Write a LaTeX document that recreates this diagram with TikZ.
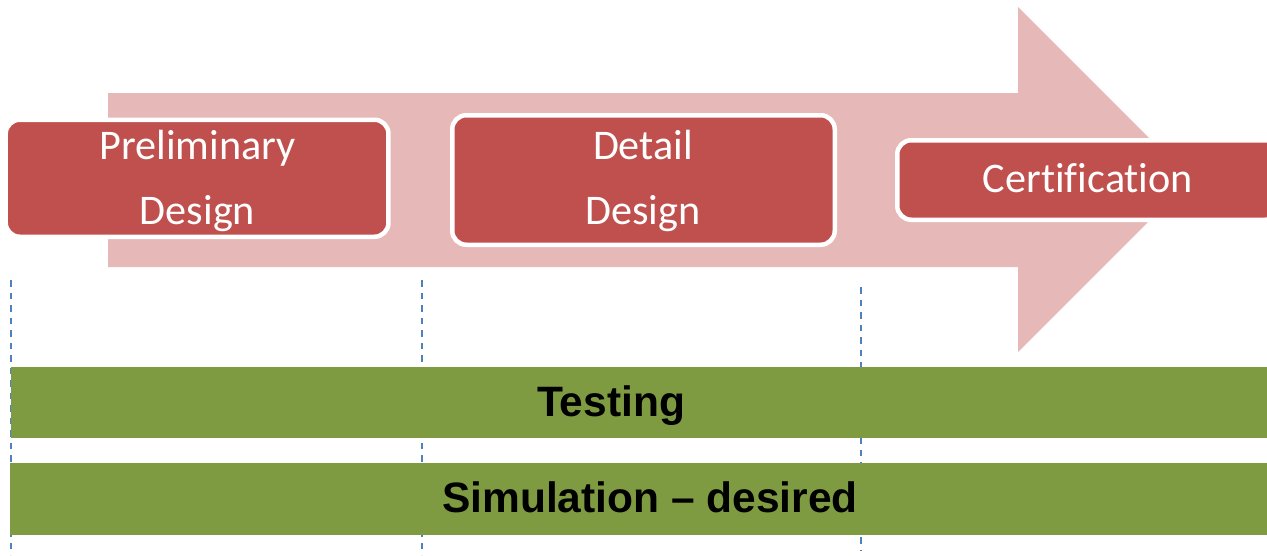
\documentclass[tikz,border=0pt]{standalone}
\usepackage{fontspec}
\newfontfamily\boxfont[Ligatures=CommonOff]{Carlito}
\newfontfamily\barfont{Liberation Sans}
\definecolor{arrowpink}{HTML}{E6B9B8}
\definecolor{stagered}{HTML}{C0504D}
\definecolor{bargreen}{HTML}{7F9B42}
\definecolor{guideblue}{HTML}{4F81BD}
\tikzset{
  stage/.style={rectangle, rounded corners=14pt, fill=stagered, draw=white,
    line width=4.5pt, inner sep=0pt},
  stagetext/.style={text=white, align=center, inner sep=0pt, anchor=base,
    font=\boxfont\fontsize{42.2}{65}\selectfont},
  phasebar/.style={rectangle, fill=bargreen, draw=none, inner sep=0pt, anchor=west},
  bartext/.style={text=black, inner sep=0pt, anchor=base,
    font=\barfont\bfseries\fontsize{42.5}{50}\selectfont},
  guide/.style={draw=guideblue, line width=2pt, dash pattern=on 6.5pt off 6pt},
}
\begin{document}
\begin{tikzpicture}[x=1pt, y=-1pt]
\useasboundingbox (0,0) rectangle (1267,555);
\clip (0,0) rectangle (1267,555);

% big process arrow in the background
\fill[arrowpink] (108,93) -- (1018,93) -- (1018,7) -- (1190.5,179.5)
  -- (1018,352) -- (1018,267) -- (108,267) -- cycle;

% vertical dashed phase guides
\coordinate (g1t) at (11,280);  \coordinate (g1b) at (11,555);
\coordinate (g2t) at (422,280); \coordinate (g2b) at (422,555);
\coordinate (g3t) at (861,287); \coordinate (g3b) at (861,550);
\draw[guide] (g1t) -- (g1b);
\draw[guide] (g2t) -- (g2b);
\draw[guide] (g3t) -- (g3b);

% stages (text anchored on the baseline of its last line)
\node[stage, minimum width=382.75pt, minimum height=117pt] (pd) at (197.1,178.25) {};
\node[stage, minimum width=382.5pt, minimum height=129.5pt] (dd) at (643.5,180) {};
\node[stage, minimum width=382pt, minimum height=79.5pt] (cert) at (1088.25,180) {};
\node[stagetext] (pdtxt) at (197.5,224) {Preliminary\\Design};
\node[stagetext] (ddtxt) at (643,224.5) {Detail\\Design};
\node[stagetext] (certtxt) at (1088,192.7) {Certification};

% activity bars
\node[phasebar, minimum width=1270pt, minimum height=71pt] (testbar) at (11,402.5) {};
\node[bartext] (testlbl) at (611,416) {Testing};
\node[phasebar, minimum width=1270pt, minimum height=72pt] (simbar) at (10,499) {};
\node[bartext] (simlbl) at (650,512) {Simulation – desired};
\end{tikzpicture}
\end{document}
